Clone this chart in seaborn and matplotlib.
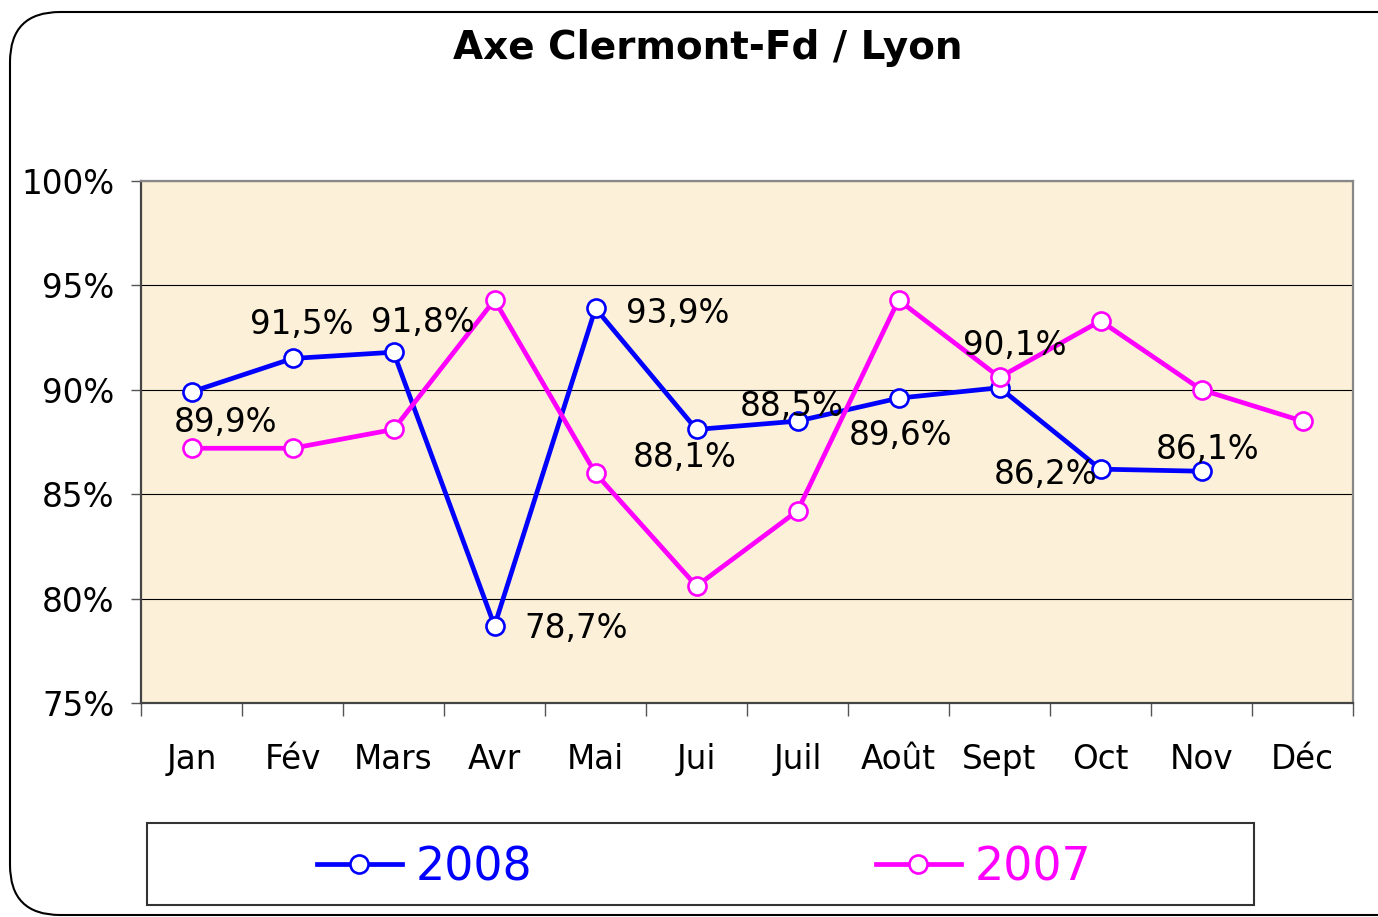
import numpy as np
import pandas as pd
import matplotlib.pyplot as plt
import seaborn as sns
from matplotlib.patches import FancyBboxPatch, Rectangle


mois = ['Jan', 'Fév', 'Mars', 'Avr', 'Mai', 'Jui', 'Juil', 'Août', 'Sept', 'Oct', 'Nov', 'Déc']
taux_2008 = [89.9, 91.5, 91.8, 78.7, 93.9, 88.1, 88.5, 89.6, 90.1, 86.2, 86.1, np.nan]
taux_2007 = [87.2, 87.2, 88.1, 94.3, 86.0, 80.6, 84.2, 94.3, 90.6, 93.3, 90.0, 88.5]

# where each 2008 label sits relative to its point (pixels, y up)
decalages = [(34, -31), (9, 34), (29, 30), (82, -3), (82, -5), (-12, -28),
             (-6, 15), (2, -37), (15, 42), (-55, -5), (6, 22)]

df = pd.DataFrame({'Mois': mois, '2008': taux_2008, '2007': taux_2007})

plt.rcParams['font.family'] = ['DejaVu Sans']

fig = plt.figure(figsize=(13.78, 9.17), dpi=100)
ax = fig.add_axes([141/1378, 1 - 703/917, 1212/1378, 522/917])
ax.set_facecolor('#FCF0D8')

for serie, couleur in [('2008', '#0000FF'), ('2007', '#FF00FF')]:
    sns.lineplot(data=df, x='Mois', y=serie, ax=ax, color=couleur, label=serie,
                 linewidth=3.4, marker='o', markersize=13, markerfacecolor='white',
                 markeredgecolor=couleur, markeredgewidth=1.9, zorder=3)

for i, (v, off) in enumerate(zip(taux_2008, decalages)):
    ax.annotate(f"{v:.1f}%".replace('.', ','), (i, v), xytext=off,
                textcoords='offset pixels', ha='center', va='center',
                fontsize=23.5, color='black', zorder=4)

ax.set_xlim(-0.5, 11.5)
ax.set_ylim(75, 100)
ax.set_yticks([75, 80, 85, 90, 95, 100])
ax.set_yticklabels([f"{t}%" for t in [75, 80, 85, 90, 95, 100]], fontsize=23.5)
ax.set_xticks(range(12))
ax.set_xticklabels(mois, fontsize=23.5)
ax.set_xticks(np.arange(-0.5, 12, 1), minor=True)
ax.tick_params(axis='x', which='major', length=0, pad=29)
ax.tick_params(axis='x', which='minor', length=9, width=1, color='#555555', direction='out')
ax.tick_params(axis='y', length=7, width=1, color='#555555', pad=12)
ax.set_xlabel('')
ax.set_ylabel('')

ax.grid(axis='y', color='black', linewidth=0.8)
ax.set_axisbelow(True)
for cote in ['left', 'bottom']:
    ax.spines[cote].set_color('#444444')
    ax.spines[cote].set_linewidth(1.6)
for cote in ['top', 'right']:
    ax.spines[cote].set_color('#888888')
    ax.spines[cote].set_linewidth(1.6)

handles, labels = ax.get_legend_handles_labels()
ax.get_legend().remove()

fig.text(708/1378, 1 - 48/917, 'Axe Clermont-Fd / Lyon', ha='center', va='center',
         fontsize=28, fontweight='bold')

# legend box
fig.patches.append(Rectangle((147/1378, 12/917), 1107/1378, 82/917, transform=fig.transFigure,
                             facecolor='white', edgecolor='#333333', linewidth=1.5, zorder=1))
fig.legend(handles, labels, loc='center', bbox_to_anchor=(704/1378, 1 - 868/917), ncol=2,
           frameon=False, fontsize=33, handlelength=1.85, handletextpad=0.3,
           columnspacing=7.5, labelcolor='linecolor')

# rounded outer frame
fig.patches.append(FancyBboxPatch((0.10, 0.02), 14.2, 9.03, boxstyle='round,pad=0,rounding_size=0.5',
                                  transform=fig.dpi_scale_trans, facecolor='none',
                                  edgecolor='black', linewidth=1.5, zorder=0))

fig.savefig('out.png', dpi=100)
